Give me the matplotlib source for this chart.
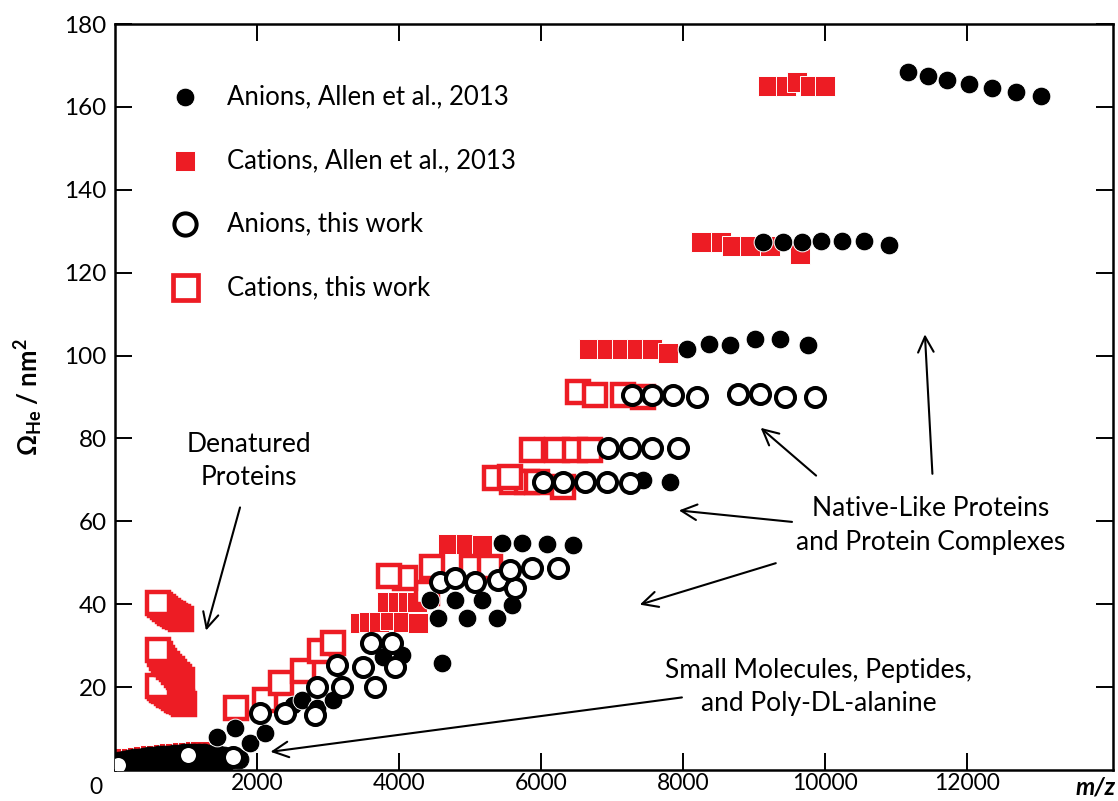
import matplotlib
matplotlib.use("Agg")
import matplotlib.pyplot as plt

RED = "#ED1C24"

# Anions, Allen et al., 2013 (filled black circles)
# small molecules / poly-alanine, packed tightly along the bottom
anion_allen_small_mz = [
    60, 130, 200, 270, 340, 410, 480, 550, 620, 690, 760, 830, 900, 970, 1040,
    1110, 1180, 1250, 1320, 1390, 1460, 1530, 1600, 1670, 1740,
    100, 280, 460, 640, 820, 1000, 1180, 1360, 1540,
]
anion_allen_small_ccs = [
    2.2, 2.4, 2.6, 2.8, 3.0, 3.1, 3.3, 3.4, 3.5, 3.6, 3.7, 3.8, 3.9, 4.0, 4.0,
    4.1, 4.1, 4.0, 3.9, 3.8, 3.6, 3.4, 3.2, 3.0, 2.7,
    0.8, 1.0, 1.2, 1.4, 1.5, 1.6, 1.6, 1.5, 1.4,
]
# peptides and proteins
anion_allen_mz = [
    1430, 1690, 1900, 2110, 2510, 2630, 2850, 3070, 3770, 4040, 4550, 4430,
    4790, 5170, 5590, 4950, 5380, 4600,
    5450, 5730, 6080, 6450,
    7430, 7810,
    8050, 8360, 8660, 9010, 9360, 9750,
    9120, 9400, 9670, 9940, 10230, 10540, 10890,
    11160, 11440, 11720, 12030, 12340, 12680, 13030,
]
anion_allen_ccs = [
    8.0, 10.1, 6.5, 8.9, 15.7, 16.9, 15.0, 16.9, 27.2, 27.7, 36.6, 41.0,
    41.0, 41.0, 39.8, 36.6, 36.6, 25.8,
    54.7, 54.7, 54.5, 54.2,
    69.9, 69.6,
    101.7, 102.9, 102.6, 103.9, 103.9, 102.6,
    127.5, 127.5, 127.5, 127.7, 127.7, 127.7, 126.7,
    168.5, 167.5, 166.5, 165.5, 164.6, 163.6, 162.7,
]

# Cations, Allen et al., 2013 (filled red squares)
cation_allen_mz = [
    40, 130, 220, 310, 400, 490, 580, 670, 760, 850, 940, 1030, 1120, 1200,
    3450, 3580, 3720, 3870, 4050, 4270,
    3830, 3980, 4120, 4250,
    4690, 4940, 5170,
    6670, 6920, 7140, 7350, 7560, 7780,
    8250, 8530, 8680, 8940, 9220, 9650,
    9200, 9440, 9600, 9780, 9990,
]
cation_allen_ccs = [
    2.6, 2.8, 3.0, 3.2, 3.4, 3.6, 3.7, 3.9, 4.0, 4.2, 4.3, 4.4, 4.5, 4.6,
    35.4, 35.7, 35.7, 36.1, 35.7, 35.4,
    40.5, 40.5, 40.5, 40.5,
    54.6, 54.6, 54.4,
    101.7, 101.7, 101.7, 101.7, 101.7, 100.7,
    127.5, 127.5, 126.5, 126.5, 126.5, 124.6,
    165.0, 165.0, 166.0, 165.0, 165.0,
]

# Anions, this work (open black circles)
anion_mz = [
    40, 1030, 1660,
    2040, 2390, 2810, 2840, 3190, 3660, 3120, 3490, 3940, 3600, 3900,
    4570, 4790, 5070, 5390, 5630, 5560, 5870, 6240,
    6020, 6310, 6620, 6920, 7250,
    6940, 7250, 7560, 7920,
    7280, 7560, 7850, 8190, 8770, 9080, 9430, 9850,
]
anion_ccs = [
    1.2, 3.6, 3.1,
    13.7, 13.7, 13.3, 20.0, 20.0, 20.0, 25.3, 24.8, 24.8, 30.6, 30.6,
    45.3, 46.3, 45.3, 45.8, 43.9, 48.2, 48.7, 48.7,
    69.4, 69.4, 69.4, 69.4, 69.2,
    77.8, 77.8, 77.8, 77.8,
    90.4, 90.4, 90.4, 90.1, 90.8, 90.8, 90.1, 89.9,
]

# Cations, this work (open red squares); denatured charge series run high m/z -> low m/z
cation_mz = [
    970, 940, 905, 870, 835, 800, 765, 730, 695, 660, 630, 605,
    940, 905, 870, 835, 800, 765, 730, 695, 660, 630, 605,
    930, 890, 850, 810, 775, 740, 705, 670, 640, 605,
    1700, 2110, 2340, 2650, 2890, 3070,
    4390, 4080, 3860, 4460, 5020, 5280,
    5350, 5590, 5800, 6310, 5560, 5940,
    5870, 6220, 6470, 6690,
    6520, 6760, 7150, 7430,
]
cation_ccs = [
    15.9, 16.3, 16.7, 17.0, 17.4, 17.8, 18.2, 18.6, 19.0, 19.4, 19.8, 20.2,
    21.7, 22.4, 23.0, 23.6, 24.3, 24.9, 25.6, 26.3, 27.0, 28.0, 28.9,
    36.4, 36.8, 37.2, 37.6, 38.0, 38.4, 38.8, 39.3, 39.7, 40.2,
    14.9, 16.9, 21.0, 23.9, 28.7, 30.6,
    42.7, 46.3, 46.7, 48.9, 48.9, 48.9,
    70.4, 69.6, 69.4, 68.2, 70.6, 69.6,
    77.3, 77.3, 77.3, 77.3,
    91.3, 90.4, 90.4, 90.1,
]

x_ticks = [2000, 4000, 6000, 8000, 10000, 12000]
y_ticks = [20, 40, 60, 80, 100, 120, 140, 160, 180]

plt.rcParams["font.family"] = ["Lato", "DejaVu Sans"]
plt.rcParams["mathtext.fontset"] = "custom"
plt.rcParams["mathtext.rm"] = "Lato"
plt.rcParams["mathtext.bf"] = "Lato:bold"

fig = plt.figure(figsize=(11.18, 8.01), dpi=100)
ax = fig.add_axes([0.1029, 0.0387, 0.8926, 0.9313])

ax.plot(cation_allen_mz, cation_allen_ccs, ls="none", marker="s", ms=14.5,
        mfc=RED, mec="white", mew=0.7, zorder=2)
ax.plot(cation_mz, cation_ccs, ls="none", marker="s", ms=15.5,
        mfc="white", mec=RED, mew=3.2, zorder=3)
ax.plot(anion_allen_small_mz, anion_allen_small_ccs, ls="none", marker="o", ms=13.5,
        mfc="black", mec="black", mew=0.7, zorder=4)
ax.plot(anion_allen_mz, anion_allen_ccs, ls="none", marker="o", ms=13.5,
        mfc="black", mec="white", mew=0.7, zorder=4)
ax.plot(anion_mz, anion_ccs, ls="none", marker="o", ms=13.7,
        mfc="white", mec="black", mew=2.9, zorder=5)

ax.set_xlim(0, 14050)
ax.set_ylim(0, 180)
ax.set_xticks(x_ticks)
ax.set_yticks(y_ticks)
ax.tick_params(direction="in", length=12, width=1.4, top=True, right=True)
ax.tick_params(axis="x", labelsize=16.5, pad=2)
ax.tick_params(axis="y", labelsize=17.5, pad=6)
for sp in ax.spines.values():
    sp.set_linewidth(1.8)

ax.text(-0.019, -0.023, "0", transform=ax.transAxes, ha="center", va="center", fontsize=16.5)
ax.text(0.983, -0.023, "m/z", transform=ax.transAxes, ha="center", va="center",
        fontsize=17.5, fontweight="bold", style="italic")
ax.set_ylabel(r"$\mathbf{\Omega_{He}}$ / $\mathbf{nm^2}$", fontsize=18.5,
              fontweight="bold", labelpad=14)

# legend drawn by hand in axes fraction
legend_rows = [
    ("o", "black", "white", 0.7, 13.5, "Anions, Allen et al., 2013"),
    ("s", RED, "white", 0.7, 15.0, "Cations, Allen et al., 2013"),
    ("o", "white", "black", 2.9, 16.0, "Anions, this work"),
    ("s", "white", RED, 3.4, 18.0, "Cations, this work"),
]
for i, (mk, fc, ec, ew, sz, label) in enumerate(legend_rows):
    yy = 0.902 - i * 0.085
    ax.plot([0.0705], [yy], transform=ax.transAxes, marker=mk, ms=sz,
            mfc=fc, mec=ec, mew=ew, ls="none", clip_on=False)
    ax.text(0.112, yy, label, transform=ax.transAxes, fontsize=18.5, va="center")

arrow = dict(arrowstyle="->", color="black", lw=1.5, mutation_scale=28)
ax.text(1890, 74.5, "Denatured\nProteins", ha="center", va="center",
        fontsize=19, linespacing=1.42)
ax.annotate("", xy=(1270, 33), xytext=(1770, 64), arrowprops=arrow)

ax.text(11480, 59.0, "Native-Like Proteins\nand Protein Complexes", ha="center",
        va="center", fontsize=19, linespacing=1.42)
ax.annotate("", xy=(9060, 83.0), xytext=(9900, 70.6), arrowprops=arrow)
ax.annotate("", xy=(7900, 62.7), xytext=(9570, 59.8), arrowprops=arrow)
ax.annotate("", xy=(7350, 39.7), xytext=(9340, 50.1), arrowprops=arrow)
ax.annotate("", xy=(11400, 105.8), xytext=(11510, 70.8), arrowprops=arrow)

ax.text(9910, 20.1, "Small Molecules, Peptides,\nand Poly-DL-alanine", ha="center",
        va="center", fontsize=19, linespacing=1.42)
ax.annotate("", xy=(2150, 4.3), xytext=(8020, 17.6), arrowprops=arrow)

fig.savefig("out.png", dpi=100)
